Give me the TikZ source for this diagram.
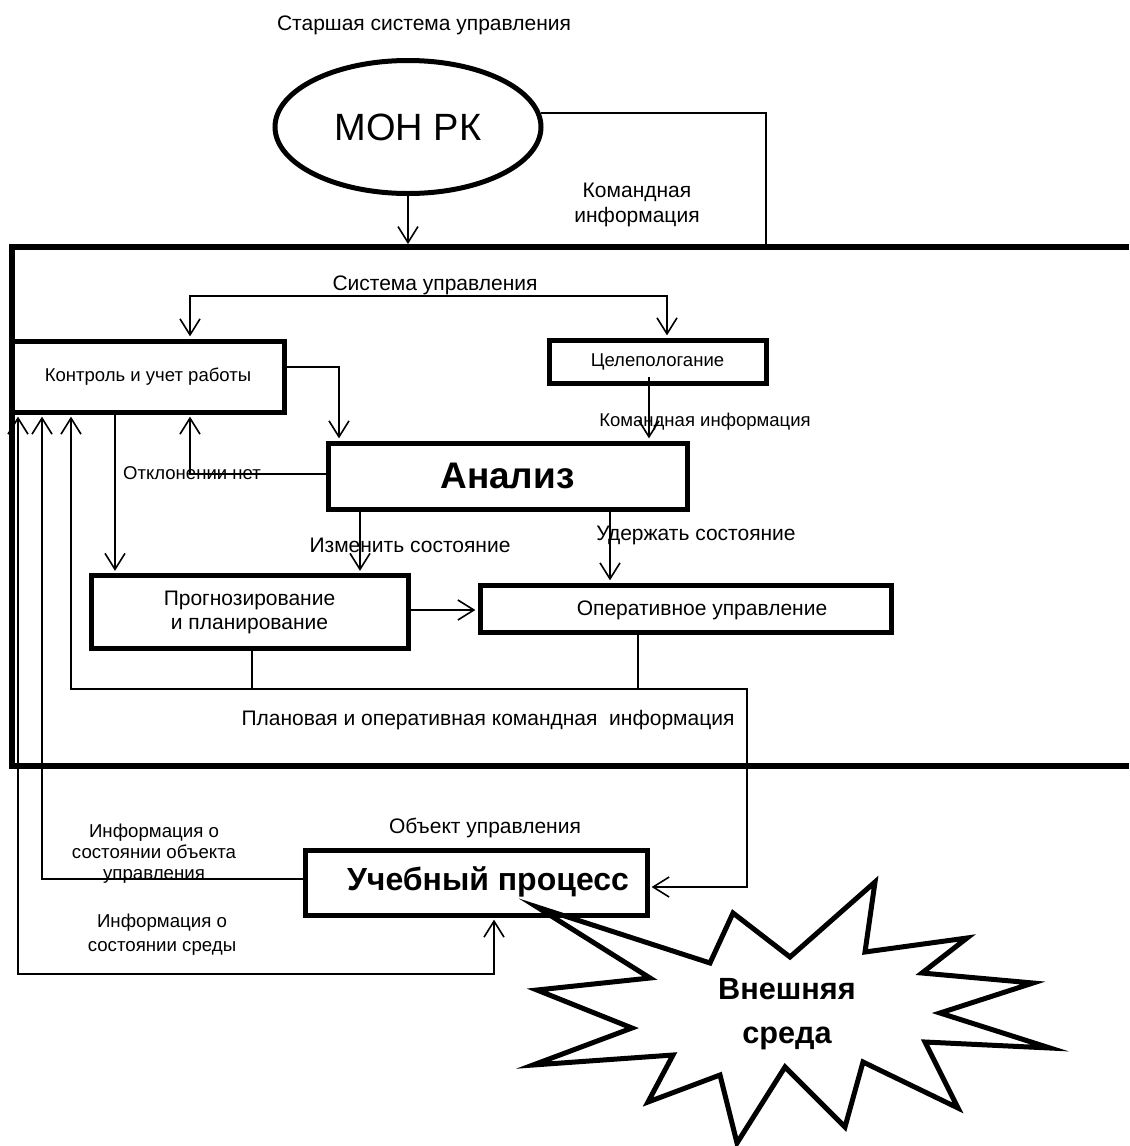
\documentclass[tikz,border=0pt]{standalone}
\usepackage{fontspec}
\setmainfont{Liberation Sans}
\usetikzlibrary{arrows.meta,shapes.geometric}
\newcommand{\fsz}[2]{\fontsize{#1pt}{#2pt}\selectfont}
\begin{document}
\begin{tikzpicture}[x=0.75pt,y=-0.75pt,
  bx/.style 2 args={draw, line width=3.75pt, minimum width=#1*0.75pt, minimum height=#2*0.75pt, inner sep=0pt},
  reg/.style={font=\fsz{15.75}{18.75}, inner sep=1pt},
  sml/.style={font=\fsz{13.9}{16.5}, inner sep=1pt},
  ln/.style={line width=1.2pt},
  arr/.style={ln, -{Straight Barb[length=12pt,width=15pt,line width=1.2pt]}, shorten >=1.6pt},
  arrb/.style={ln, {Straight Barb[length=12pt,width=15pt,line width=1.2pt]}-{Straight Barb[length=12pt,width=15pt,line width=1.2pt]}, shorten >=1.6pt, shorten <=1.6pt},
  frm/.style={line width=4.2pt}]
\useasboundingbox (0,0) rectangle (1129,1146);

% top
\node[reg] (senior) at (424,25) {Старшая система управления};
\node[draw, ellipse, line width=3.75pt, minimum width=266*0.75pt, minimum height=133*0.75pt, inner sep=0pt, font=\fsz{28.5}{30}] (mon) at (408,127) {МОН РК};
\node[reg, align=center, font=\fsz{15.75}{19}] (cmdtop) at (637,205) {Командная\\информация};

% frame
\coordinate (ftl) at (12,247);
\coordinate (ftr) at (1129,247);
\coordinate (fbl) at (12,766);
\coordinate (fbr) at (1129,766);
\draw[frm] (ftr) -- (ftl) -- (fbl) -- (fbr);

\coordinate (monr) at (766,113);
\draw[ln] (mon.6) -- (mon.6 -| monr) -- (monr |- ftl);
\draw[arr, shorten >=2.2pt] (mon.south) -- (mon.south |- ftl);

% boxes
\node[reg] (sysl) at (435,285) {Система управления};
\node[bx={272}{71}, sml] (kontrol) at (148,376.5) {Контроль и учет работы};
\node[bx={217}{43}, sml] (celi) at (657.5,361.5) {Целепологание};
\node[bx={359}{66}, font=\bfseries\fsz{27.75}{30}] (analiz) at (507.5,476) {Анализ};
\node[bx={317}{73}, align=center, font=\fsz{15.75}{18}] (prog) at (249.5,612) {Прогнозирование\\и планирование};
\node[bx={411}{47}] (oper) at (685.5,608.5) {};
\node[reg] (opert) at (702,610) {Оперативное управление};
\node[bx={342}{65}] (ucheb) at (476,882.5) {};
\node[font=\bfseries\fsz{24}{26}] (uchebt) at (488,882) {Учебный процесс};

% labels
\node[sml] (cmdmid) at (705,422) {Командная информация};
\node[sml] (otkl) at (192,473) {Отклонении нет};
\node[reg] (izm) at (410,545) {Изменить состояние};
\node[reg] (uder) at (696,535) {Удержать состояние};
\node[reg] (plan) at (488,720) {Плановая и оперативная командная\ \ информация};
\node[reg] (obj) at (485,828) {Объект управления};
\node[align=center, font=\fsz{14}{15.8}] (info1) at (154,854) {Информация о\\состоянии объекта\\управления};
\node[align=center, font=\fsz{14}{18}] (info2) at (162,935) {Информация о\\состоянии среды};

% connectors
\coordinate (sysL) at (190,296);
\coordinate (sysR) at (667,296);
\draw[arrb] (sysL |- kontrol.north) -- (sysL) -- (sysR) -- (sysR |- celi.north);

\coordinate (k2a) at (339,367);
\draw[arr] (kontrol.east |- k2a) -- (k2a) -- (k2a |- analiz.north);

\coordinate (c2a) at (649,377);
\draw[arr] (c2a) -- (c2a |- analiz.north);

\coordinate (otk) at (190,474);
\draw[arr] (analiz.west |- otk) -- (otk) -- (otk |- kontrol.south);

\coordinate (k2p) at (115,500);
\draw[arr] (k2p |- kontrol.south) -- (k2p |- prog.north);

\coordinate (a2p) at (360,540);
\draw[arr] (a2p |- analiz.south) -- (a2p |- prog.north);
\coordinate (a2o) at (610,540);
\draw[arr] (a2o |- analiz.south) -- (a2o |- oper.north);

\coordinate (p2o) at (300,610);
\draw[arr] (prog.east |- p2o) -- (p2o -| oper.west);

\coordinate (busL) at (71,689);
\coordinate (busR) at (747,689);
\coordinate (pb) at (252,689);
\coordinate (ob) at (638,689);
\draw[ln] (pb |- prog.south) -- (pb);
\draw[ln] (ob |- oper.south) -- (ob);
\coordinate (u887) at (747,887);
\draw[arrb] (busL |- kontrol.south) -- (busL) -- (busR) -- (u887) -- (u887 -| ucheb.east);

\coordinate (c42) at (42,879);
\draw[arr] (ucheb.west |- c42) -- (c42) -- (c42 |- kontrol.south);

\coordinate (c18) at (18,974);
\coordinate (c494) at (494,974);
\draw[arrb] (c18 |- kontrol.south) -- (c18) -- (c494) -- (c494 |- ucheb.south);

% external environment (starburst)
\draw[line width=3.75pt, line join=miter]
  (537,907) -- (710,963) -- (733,913) -- (790,957) -- (875,882) -- (865,952)
  -- (967,938) -- (922,973) -- (1033,983) -- (940,1013) -- (1050,1048)
  -- (925,1042) -- (958,1108) -- (863,1062) -- (845,1127) -- (785,1067)
  -- (737,1143) -- (720,1075) -- (648,1102) -- (673,1055) -- (533,1065)
  -- (632,1028) -- (537,990) -- (650,978) -- cycle;
\node[align=center, font=\bfseries\fsz{23}{33}] (ext) at (787,1014) {Внешняя\\среда};
\end{tikzpicture}
\end{document}
